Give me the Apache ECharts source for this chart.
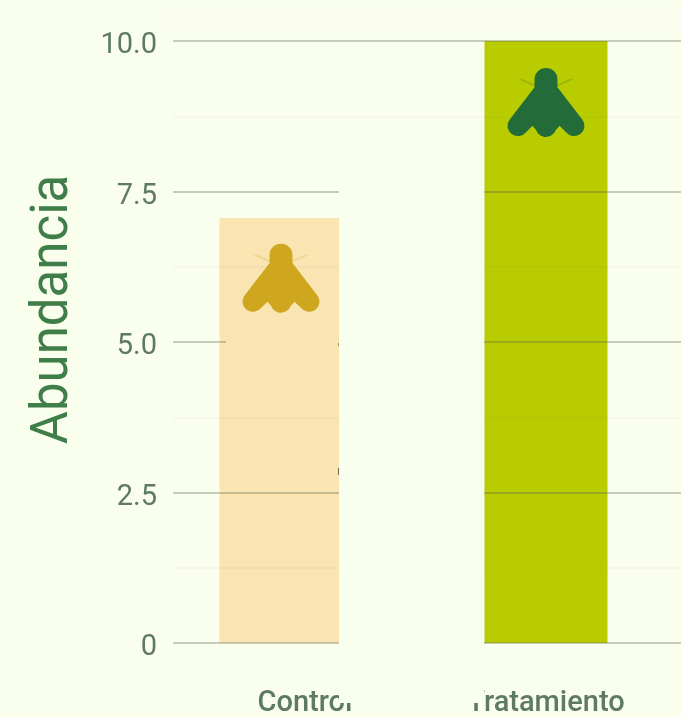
<!DOCTYPE html>
<html><head><meta charset="utf-8">
<style>html,body{margin:0;padding:0;background:#fafeec}#c{width:681px;height:717px}</style>
<script src="https://cdn.jsdelivr.net/npm/echarts@6/dist/echarts.min.js"></script>
</head><body><div id="c"></div>
<script>
const categories = ['Control', 'Tratamiento'];
const abundance = [7.06, 10];
const iconHeights = [6.06, 8.98];
const barColors = ['#f9e4b2', '#b8cc00'];
const iconColors = ['#cfa71e', '#236b38'];
const yTicks = { min: 0, max: 10, interval: 2.5 };
const yTitle = 'Abundancia';
const bg = '#fafeec';
const patch = '#f8ffee';
const fly = 'path://M39 1A11 11 0 0 1 50 12L50 20L74 52A10 10 0 0 1 58 64L52 58L48.5 62A10 10 0 0 1 29.5 62L26 58L20 64A10 10 0 0 1 4 52L28 20L28 12A11 11 0 0 1 39 1Z';
const feelers = 'path://M0 0L13 9L12 10L-1 1ZM26 0L13 9L14 10L27 1Z';
const chart = echarts.init(document.getElementById('c'), null, { renderer: 'canvas' });
chart.setOption({
  animation: false,
  backgroundColor: bg,
  textStyle: { fontFamily: 'Roboto' },
  grid: [
    { left: 173, right: 0, top: 41, bottom: 74, outerBoundsMode: 'none' },
    { left: 148.5, width: 530, top: 41, bottom: 74, outerBoundsMode: 'none' },
    { left: 173, right: 0, top: 46, bottom: 69, outerBoundsMode: 'none' }
  ],
  xAxis: [
    { gridIndex: 0, type: 'value', min: 0, max: 1, show: false },
    { gridIndex: 1, type: 'category',
      data: [{ value: categories[0], textStyle: { padding: [0, 0, 0, 48] } }, categories[1]],
      axisLine: { show: false }, axisTick: { show: false },
      axisLabel: { color: '#5e7a62', fontSize: 29, fontFamily: 'Roboto', margin: 46, fontWeight: 500 } },
    { gridIndex: 2, type: 'value', min: 0, max: 1, show: false }
  ],
  yAxis: [
    { gridIndex: 0, type: 'value', z: 3, min: yTicks.min, max: yTicks.max, interval: yTicks.interval,
      name: yTitle, nameLocation: 'middle', nameGap: 93,
      nameTextStyle: { color: '#3f7d49', fontSize: 51, fontFamily: 'Roboto', padding: [0, 0, 0, 65] },
      axisLine: { show: false }, axisTick: { show: false }, axisLabel: { show: false },
      splitLine: { show: true, lineStyle: { color: 'rgba(90,100,80,0.32)', width: 2 } },
      minorTick: { show: false, splitNumber: 2 },
      minorSplitLine: { show: true, lineStyle: { color: 'rgba(90,100,80,0.04)', width: 2 } }
    },
    { gridIndex: 1, type: 'value', min: yTicks.min, max: yTicks.max, show: false },
    { gridIndex: 2, type: 'value', min: yTicks.min, max: yTicks.max, interval: yTicks.interval,
      axisLine: { show: false }, axisTick: { show: false }, splitLine: { show: false },
      axisLabel: { color: '#5e7a62', fontSize: 29, margin: 16, fontFamily: 'Roboto',
        formatter: v => v === 0 ? '0' : v.toFixed(1) } }
  ],
  series: [
    { type: 'bar', xAxisIndex: 1, yAxisIndex: 1, barWidth: 123,
      data: abundance.map((v, i) => ({ value: v, itemStyle: { color: barColors[i] } })) },
    { type: 'scatter', xAxisIndex: 1, yAxisIndex: 1, z: 5, symbol: feelers, symbolSize: [54, 12], symbolOffset: [0, -18],
      data: iconHeights.map((v, i) => ({ value: [i, v], itemStyle: { color: iconColors[i], opacity: 0.22 } })) },
    { type: 'scatter', xAxisIndex: 1, yAxisIndex: 1, z: 6, symbol: fly, symbolSize: [77, 69],
      data: iconHeights.map((v, i) => ({ value: [i, v], itemStyle: { color: iconColors[i], opacity: 1 } })) }
  ],
  graphic: { z: 100, elements: [
    { type: 'rect', z: 1, silent: true, shape: { x: 173, y: 11, width: 508, height: 20 }, style: { fill: '#fafdee' } },
    { type: 'rect', z: 100, shape: { x: 339, y: 186, width: 145, height: 517 }, style: { fill: patch } },
    { type: 'rect', z: 100, shape: { x: 226, y: 336, width: 113, height: 16 }, style: { fill: barColors[0] } },
    { type: 'rect', z: 101, shape: { x: 338, y: 343, width: 1, height: 3 }, style: { fill: '#a09a70' } },
    { type: 'rect', z: 101, shape: { x: 338, y: 468, width: 1, height: 7 }, style: { fill: '#6a6a50' } }
  ]}
});
</script></body></html>
